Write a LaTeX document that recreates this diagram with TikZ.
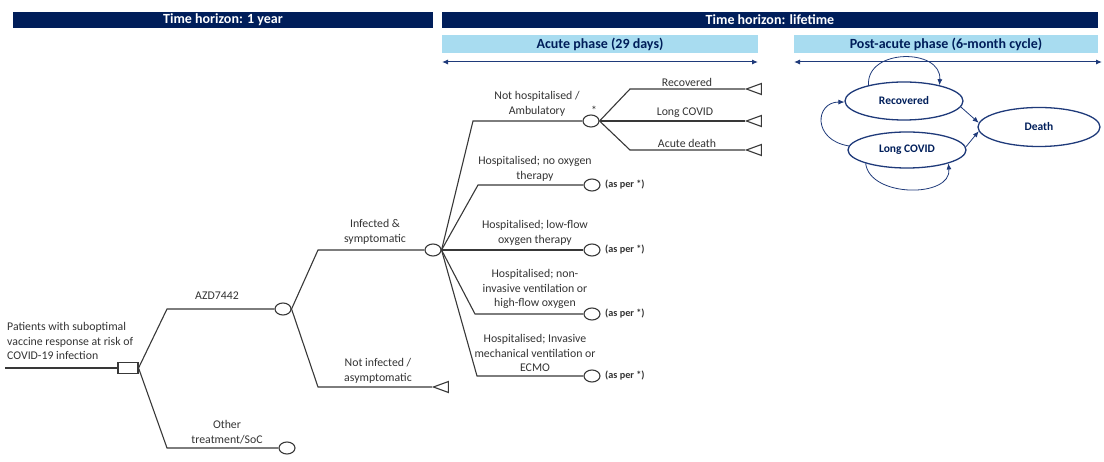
\documentclass[tikz,border=0pt]{standalone}
\usepackage{fontspec}
\setmainfont{Carlito}
\usetikzlibrary{shapes.geometric,arrows.meta}
\definecolor{navy}{HTML}{001E5A}
\definecolor{lblue}{HTML}{A8DCF0}
\definecolor{stnavy}{HTML}{1F3A7A}
\definecolor{treeln}{HTML}{383838}
\definecolor{treetx}{HTML}{333333}
\tikzset{
  hdr/.style={fill=navy, text=white, font=\fontsize{14}{16}\selectfont\bfseries, inner sep=0pt, draw=none},
  phase/.style={fill=lblue, text=navy, font=\fontsize{14}{16}\selectfont\bfseries, inner sep=0pt, draw=none},
  span/.style={stnavy, line width=1pt, {Latex[length=6pt,width=5pt]}-{Latex[length=6pt,width=5pt]}},
  state/.style={ellipse, draw=stnavy, line width=1.3pt, text=navy, font=\fontsize{11.5}{13}\selectfont\bfseries, inner sep=0pt},
  trans/.style={stnavy, line width=0.8pt, -{Latex[length=6pt,width=5pt]}},
  tl/.style={treeln, line width=1.1pt},
  chance/.style={ellipse, draw=treeln, line width=1.1pt, fill=white, minimum width=16pt, minimum height=12pt, inner sep=0pt},
  decis/.style={rectangle, draw=treeln, line width=1.1pt, fill=white, minimum width=20pt, minimum height=11pt, inner sep=0pt},
  term/.style={isosceles triangle, shape border rotate=180, isosceles triangle stretches, draw=treeln, line width=1.1pt, fill=white, minimum width=11pt, minimum height=15pt, inner sep=0pt},
  lab/.style={text=treetx, font=\fontsize{11.8}{14.5}\selectfont, align=center, inner sep=0pt},
  asper/.style={text=treetx, font=\fontsize{10.2}{11}\selectfont\bfseries, anchor=west, inner sep=0pt}
}
\begin{document}
\begin{tikzpicture}[x=1pt,y=-1pt]
\useasboundingbox (0,0) rectangle (1104,462);
% headers
\node[hdr, minimum width=420pt, minimum height=16pt] (h1) at (223,20) {Time horizon: 1 year};
\node[hdr, minimum width=656pt, minimum height=16pt] (h2) at (770,20) {Time horizon: lifetime};
\node[phase, minimum width=316pt, minimum height=18pt] (p1) at (600,44) {Acute phase (29 days)};
\node[phase, minimum width=304pt, minimum height=18pt] (p2) at (946,44) {Post-acute phase (6-month cycle)};
\coordinate (a1l) at (442,62); \coordinate (a1r) at (758,62);
\coordinate (a2l) at (794,62); \coordinate (a2r) at (1102,62);
\draw[span] (a1l) -- (a1r);
\draw[span] (a2l) -- (a2r);
% Markov states
\node[state, minimum width=118pt, minimum height=38pt] (rec) at (904,101) {Recovered};
\node[state, minimum width=118pt, minimum height=36pt] (lc) at (907,150) {Long COVID};
\node[state, minimum width=122pt, minimum height=39pt] (dth) at (1039,127) {Death};
\draw[trans] (rec.156) .. controls (866,48) and (942,48) .. (rec.24);
\draw[trans] (lc.198) .. controls (870,198) and (952,198) .. (lc.342);
\draw[trans] (lc.176) .. controls (812,140) and (815,102) .. (rec.181);
\draw[trans] (rec.354) -- (dth.176);
\draw[trans] (lc.3) -- (dth.184);
% decision tree
\coordinate (start) at (5,368);
\node[decis] (root) at (128,368) {};
\node[lab, align=left, anchor=west] (rootl) at (7,341) {Patients with suboptimal\\vaccine response at risk of\\COVID-19 infection};
\draw[tl] (start) -- (root);
\coordinate (bA) at (167,309);
\coordinate (bO) at (167,448);
\node[chance] (azd) at (283,309) {};
\node[chance] (oth) at (287,448) {};
\draw[tl] (root.east) -- (bA) -- (azd);
\draw[tl] (root.east) -- (bO) -- (oth);
\node[lab] (azdl) at (217,296) {AZD7442};
\node[lab] (othl) at (227,432) {Other\\treatment/SoC};
% AZD branches
\coordinate (bI) at (318,250);
\coordinate (bN) at (318,387);
\node[chance] (inf) at (433,250) {};
\node[term, anchor=apex] (ni) at (432,387) {};
\draw[tl] (azd.east) -- (bI) -- (inf);
\draw[tl] (azd.east) -- (bN) -- (ni.apex);
\node[lab] (infl) at (375,232) {Infected \&\\symptomatic};
\node[lab] (nil) at (378,371) {Not infected /\\asymptomatic};
% infected branches
\coordinate (b1) at (473,121);
\coordinate (b2) at (478,185);
\coordinate (b4) at (475,314);
\coordinate (b5) at (477,376);
\node[chance] (amb) at (591,121) {};
\node[chance] (noox) at (592,185) {};
\node[chance] (lowf) at (592,250) {};
\node[chance] (niv) at (592,314) {};
\node[chance] (imv) at (592,376) {};
\draw[tl] (inf.east) -- (b1) -- (amb);
\draw[tl] (inf.east) -- (b2) -- (noox);
\draw[tl] (inf) -- (lowf);
\draw[tl] (inf.east) -- (b4) -- (niv);
\draw[tl] (inf.east) -- (b5) -- (imv);
\node[lab] (ambl) at (537,104) {Not hospitalised /\\Ambulatory};
\node[lab] (star) at (594,110) {*};
\node[lab] (nooxl) at (535,169) {Hospitalised; no oxygen\\therapy};
\node[lab] (lowfl) at (535,233) {Hospitalised; low-flow\\oxygen therapy};
\node[lab] (nivl) at (535,289) {Hospitalised; non-\\invasive ventilation or\\high-flow oxygen};
\node[lab] (imvl) at (535,353) {Hospitalised; Invasive\\mechanical ventilation or\\ECMO};
\node[asper] (as2) at (605,185) {(as per *)};
\node[asper] (as3) at (605,250) {(as per *)};
\node[asper] (as4) at (605,314) {(as per *)};
\node[asper] (as5) at (605,376) {(as per *)};
% ambulatory outcomes
\coordinate (c1) at (630,89);
\coordinate (c3) at (630,150);
\node[term, anchor=apex] (trec) at (745,89) {};
\node[term, anchor=apex] (tlc) at (745,121) {};
\node[term, anchor=apex] (tad) at (745,150) {};
\draw[tl] (amb.east) -- (c1) -- (trec.apex);
\draw[tl] (amb.east) -- (tlc.apex);
\draw[tl] (amb.east) -- (c3) -- (tad.apex);
\node[lab] (trecl) at (687,82) {Recovered};
\node[lab] (tlcl) at (685,113) {Long COVID};
\node[lab] (tadl) at (687,143) {Acute death};
\end{tikzpicture}
\end{document}
